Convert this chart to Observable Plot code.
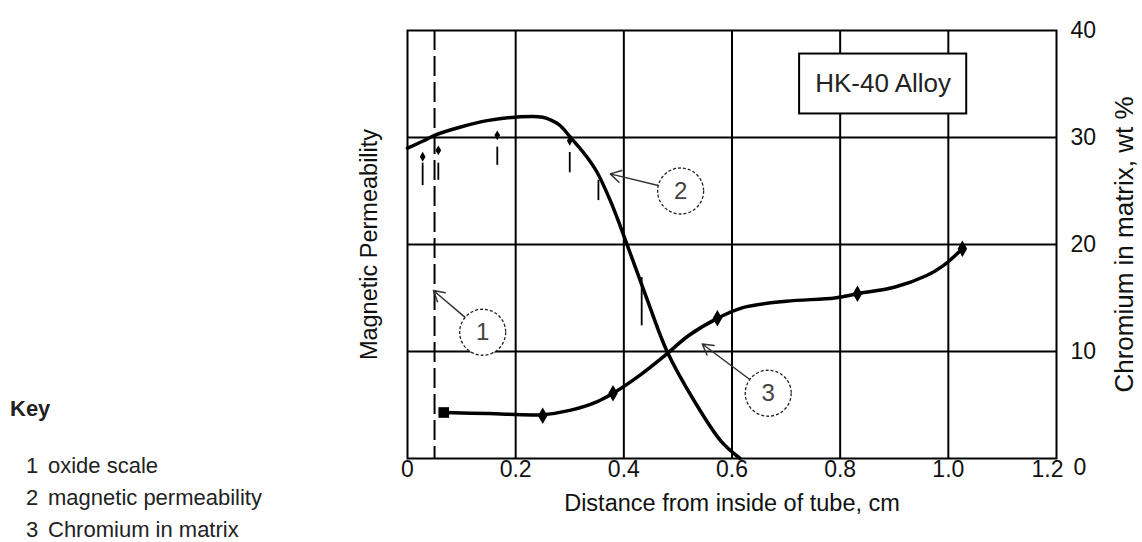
<!DOCTYPE html>
<html><head><meta charset="utf-8">
<script src="https://cdn.jsdelivr.net/npm/d3@7"></script>
<script src="https://cdn.jsdelivr.net/npm/@observablehq/plot@0.6"></script>
<style>
body{margin:0;background:#fff;}
#wrap{position:relative;width:1142px;height:542px;font-family:"Liberation Sans",Arial,sans-serif;}
#key{position:absolute;left:10px;top:393px;color:#222;font-size:22px;line-height:32px;}
#key .h{font-weight:bold;margin-bottom:25px;}
#key .i{padding-left:16px;}
#key .n{display:inline-block;width:22px;}
</style></head><body>
<div id="wrap"><div id="chart"></div>
<div id="key"></div>
</div>
<script>
// ---- data ----
const xTicks = [0, 0.2, 0.4, 0.6, 0.8, 1.0, 1.2];
const yTicks = [0, 10, 20, 30, 40];
const keyTitle = "Key";
const keyItems = ["oxide scale", "magnetic permeability", "Chromium in matrix"];

// magnetic permeability curve (drawn on the 0-40 frame)
const permX = [0, 0.03, 0.05, 0.1, 0.15, 0.2, 0.25, 0.28, 0.30, 0.33, 0.35, 0.375, 0.395, 0.44, 0.48, 0.53, 0.58, 0.615];
const permY = [29.0, 29.7, 30.2, 31.0, 31.6, 31.9, 31.9, 31.2, 30.1, 28.3, 26.8, 24.1, 21.5, 15.3, 10.0, 5.4, 1.6, 0];
// measured permeability points and their error bars
const permPtX = [0.028, 0.057, 0.166, 0.30];
const permPtY = [28.2, 28.8, 30.2, 29.7];
const errX  = [0.028, 0.057, 0.166, 0.30, 0.353, 0.433];
const errLo = [25.5, 26.0, 27.4, 26.7, 24.1, 12.4];
const errHi = [27.6, 27.6, 29.1, 28.6, 26.0, 16.9];

// chromium in matrix, wt %
const crX = [0.067, 0.15, 0.25, 0.30, 0.35, 0.38, 0.43, 0.48, 0.52, 0.573, 0.62, 0.70, 0.79, 0.832, 0.90, 0.96, 0.99, 1.026];
const crY = [4.3, 4.2, 4.1, 4.5, 5.3, 6.1, 7.8, 9.8, 11.5, 13.1, 14.1, 14.7, 15.0, 15.4, 16.0, 17.1, 18.0, 19.6];
const crPtX = [0.25, 0.38, 0.573, 0.832, 1.026];
const crPtY = [4.0, 6.1, 13.1, 15.4, 19.6];
const crStartX = [0.067];
const crStartY = [4.3];

// oxide scale boundary
const oxideX = [0.05];

// numbered callouts
const calloutLabel = ["1", "2", "3"];
const calloutX = [0.139, 0.505, 0.667];
const calloutY = [11.8, 25.0, 6.1];
const targetX = [0.048, 0.375, 0.545];
const targetY = [15.7, 26.6, 10.7];

// alloy box
const boxX1 = [0.725], boxX2 = [1.034], boxY1 = [32.2], boxY2 = [37.8];
const boxText = ["HK-40 Alloy"];

// ---- build ----
const perm = permX.map((x, i) => ({x, y: permY[i]}));
const permPts = permPtX.map((x, i) => ({x, y: permPtY[i]}));
const errs = errX.map((x, i) => ({x, lo: errLo[i], hi: errHi[i]}));
const cr = crX.map((x, i) => ({x, y: crY[i]}));
const crPts = crPtX.map((x, i) => ({x, y: crPtY[i]}));
const crStart = crStartX.map((x, i) => ({x, y: crStartY[i]}));
const callouts = calloutLabel.map((t, i) => ({t, x: calloutX[i], y: calloutY[i], tx: targetX[i], ty: targetY[i]}));
const box = [{x1: boxX1[0], x2: boxX2[0], y1: boxY1[0], y2: boxY2[0], x: (boxX1[0] + boxX2[0]) / 2, y: (boxY1[0] + boxY2[0]) / 2, t: boxText[0]}];
const R = 23;
const fmt = d => d === 0 ? "0" : d.toFixed(1);

const chart = Plot.plot({
  width: 1142, height: 542,
  marginLeft: 407, marginRight: 86, marginTop: 30, marginBottom: 84,
  style: {fontFamily: '"Liberation Sans", Arial, sans-serif', color: "#111", background: "#fff"},
  x: {domain: [0, 1.2]},
  y: {domain: [0, 40]},
  marks: [
    Plot.gridX(xTicks.slice(1, -1), {stroke: "#000", strokeOpacity: 1, strokeWidth: 2}),
    Plot.gridY(yTicks.slice(1, -1), {stroke: "#000", strokeOpacity: 1, strokeWidth: 2}),
    Plot.ruleX(oxideX, {stroke: "#000", strokeWidth: 2, strokeDasharray: "20,6"}),
    Plot.rect(box, {x1: "x1", x2: "x2", y1: "y1", y2: "y2", fill: "#fff", stroke: "#000", strokeWidth: 2}),
    Plot.text(box, {x: "x", y: "y", text: "t", fontSize: 26, fill: "#222"}),
    Plot.ruleX(errs, {x: "x", y1: "lo", y2: "hi", stroke: "#000", strokeWidth: 1.8}),
    Plot.line(perm, {x: "x", y: "y", curve: "catmull-rom", stroke: "#000", strokeWidth: 3.5}),
    Plot.dot(permPts, {x: "x", y: "y", r: 3, fill: "#000", symbol: "diamond"}),
    Plot.line(cr, {x: "x", y: "y", curve: "catmull-rom", stroke: "#000", strokeWidth: 3.5}),
    Plot.dot(crPts, {x: "x", y: "y", r: 5, fill: "#000", symbol: "diamond"}),
    Plot.dot(crStart, {x: "x", y: "y", r: 6, fill: "#000", symbol: "square"}),
    Plot.arrow(callouts, {x1: "x", y1: "y", x2: "tx", y2: "ty", insetStart: R, stroke: "#333", strokeWidth: 1.5, headLength: 12}),
    Plot.dot(callouts, {x: "x", y: "y", r: R, fill: "#fff", stroke: "#222", strokeWidth: 1.3, strokeDasharray: "3,2"}),
    Plot.text(callouts, {x: "x", y: "y", text: "t", fontSize: 24, fill: "#444"}),
    Plot.frame({stroke: "#000", strokeWidth: 2}),
    Plot.axisX({ticks: xTicks.slice(0, -1), tickSize: 0, tickPadding: 2, fontSize: 23, tickFormat: fmt, label: null}),
    Plot.axisX({ticks: xTicks.slice(-1), tickSize: 0, tickPadding: 2, fontSize: 23, tickFormat: fmt, dx: -9, label: null}),
    Plot.axisX({ticks: [], label: "Distance from inside of tube, cm", labelAnchor: "center", labelOffset: 52, fontSize: 23.5, labelArrow: false}),
    Plot.axisY({anchor: "left", ticks: [], label: "Magnetic Permeability", labelAnchor: "center", labelOffset: 47, fontSize: 23.5, labelArrow: false}),
    Plot.axisY({anchor: "right", ticks: yTicks.slice(1), tickSize: 0, tickPadding: 14, fontSize: 23, label: null}),
    Plot.axisY({anchor: "right", ticks: yTicks.slice(0, 1), tickSize: 0, tickPadding: 17, fontSize: 23, dy: 9, label: null}),
    Plot.axisY({anchor: "right", ticks: [], label: "Chromium in matrix, wt %", labelAnchor: "center", labelOffset: 76, fontSize: 26, labelArrow: false})
  ]
});
document.getElementById("chart").appendChild(chart);

const key = document.getElementById("key");
const h = document.createElement("div"); h.className = "h"; h.textContent = keyTitle; key.appendChild(h);
keyItems.forEach((t, i) => {
  const d = document.createElement("div"); d.className = "i";
  const n = document.createElement("span"); n.className = "n"; n.textContent = String(i + 1);
  d.appendChild(n); d.appendChild(document.createTextNode(t)); key.appendChild(d);
});
</script>
</body></html>
